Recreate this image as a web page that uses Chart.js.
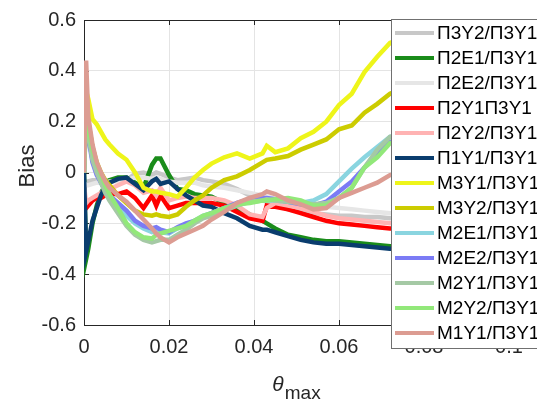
<!DOCTYPE html>
<html>
<head>
<meta charset="utf-8">
<script src="https://cdn.jsdelivr.net/npm/chart.js@4"></script>
<style>
  html, body { margin: 0; padding: 0; background: #fff; }
</style>
</head>
<body>
<canvas id="chart" width="537" height="401"></canvas>
<script>
// x values (theta_max) shared by all series
const thetaMax = [0, 0.0005, 0.001, 0.002, 0.003, 0.004, 0.005, 0.006, 0.008, 0.010,
  0.012, 0.014, 0.016, 0.017, 0.018, 0.020, 0.022, 0.024, 0.026, 0.028,
  0.030, 0.033, 0.036, 0.039, 0.042, 0.043, 0.045, 0.048, 0.051, 0.054,
  0.057, 0.060, 0.063, 0.066, 0.069, 0.072, 0.075];

const seriesNames = ['П3Y2/П3Y1', 'П2E1/П3Y1', 'П2E2/П3Y1', 'П2Y1П3Y1', 'П2Y2/П3Y1', 'П1Y1/П3Y1',
  'M3Y1/П3Y1', 'M3Y2/П3Y1', 'M2E1/П3Y1', 'M2E2/П3Y1', 'M2Y1/П3Y1', 'M2Y2/П3Y1', 'M1Y1/П3Y1'];

const p3y2 = [-0.03, -0.04, -0.035, -0.03, -0.03, -0.03, -0.03, -0.03, -0.03, -0.03,
  -0.005, 0, -0.01, 0, -0.005, -0.02, -0.03, -0.025, -0.02, -0.03,
  -0.035, -0.045, -0.065, -0.09, -0.11, -0.115, -0.125, -0.145, -0.155, -0.16,
  -0.165, -0.17, -0.17, -0.175, -0.175, -0.18, -0.18];
const p2e1 = [0, -0.34, -0.3, -0.2, -0.13, -0.08, -0.05, -0.03, -0.02, -0.02,
  -0.04, -0.06, 0.03, 0.055, 0.055, -0.01, -0.065, -0.07, -0.085, -0.09,
  -0.095, -0.12, -0.14, -0.165, -0.19, -0.2, -0.22, -0.245, -0.255, -0.265,
  -0.27, -0.27, -0.275, -0.28, -0.285, -0.29, -0.29];
const p2e2 = [-0.04, -0.05, -0.05, -0.045, -0.04, -0.04, -0.04, -0.035, -0.035, -0.03,
  -0.02, -0.02, -0.025, -0.02, -0.025, -0.035, -0.04, -0.04, -0.04, -0.05,
  -0.055, -0.06, -0.07, -0.08, -0.09, -0.095, -0.1, -0.11, -0.12, -0.13,
  -0.135, -0.14, -0.145, -0.15, -0.155, -0.16, -0.16];
const p2y1 = [-0.08, -0.14, -0.13, -0.11, -0.1, -0.1, -0.09, -0.085, -0.085, -0.075,
  -0.1, -0.14, -0.09, -0.13, -0.09, -0.14, -0.13, -0.12, -0.12, -0.12,
  -0.12, -0.13, -0.155, -0.18, -0.19, -0.13, -0.135, -0.145, -0.16, -0.175,
  -0.19, -0.2, -0.205, -0.21, -0.215, -0.22, -0.22];
const p2y2 = [-0.05, -0.12, -0.11, -0.1, -0.09, -0.08, -0.07, -0.065, -0.05, -0.035,
  -0.05, -0.08, -0.07, -0.09, -0.06, -0.11, -0.1, -0.095, -0.1, -0.1,
  -0.1, -0.11, -0.13, -0.165, -0.175, -0.14, -0.12, -0.13, -0.14, -0.155,
  -0.17, -0.18, -0.185, -0.19, -0.195, -0.2, -0.2];
const p1y1 = [0, -0.31, -0.27, -0.19, -0.14, -0.09, -0.055, -0.04, -0.025, -0.02,
  -0.045, -0.07, -0.035, -0.025, -0.045, -0.035, -0.065, -0.09, -0.11, -0.13,
  -0.135, -0.16, -0.18, -0.21, -0.225, -0.225, -0.235, -0.25, -0.265, -0.275,
  -0.28, -0.28, -0.285, -0.29, -0.295, -0.3, -0.3];
const m3y1 = [0, 0.32, 0.29, 0.21, 0.19, 0.16, 0.13, 0.11, 0.075, 0.05,
  0, -0.06, -0.075, -0.075, -0.08, -0.085, -0.095, -0.06, -0.02, 0.01,
  0.035, 0.06, 0.075, 0.055, 0.075, 0.105, 0.08, 0.095, 0.135, 0.16,
  0.2, 0.265, 0.31, 0.395, 0.455, 0.51, 0.53];
const m3y2 = [0, 0.25, 0.2, 0.1, 0.04, 0, -0.03, -0.05, -0.09, -0.12,
  -0.15, -0.165, -0.17, -0.165, -0.17, -0.175, -0.165, -0.135, -0.11, -0.09,
  -0.06, -0.03, -0.015, 0.01, 0.04, 0.05, 0.055, 0.065, 0.09, 0.11,
  0.13, 0.17, 0.185, 0.235, 0.27, 0.31, 0.33];
const m2e1 = [0, 0.22, 0.15, 0.05, 0, -0.04, -0.07, -0.09, -0.13, -0.17,
  -0.2, -0.22, -0.235, -0.23, -0.235, -0.24, -0.22, -0.21, -0.19, -0.17,
  -0.16, -0.14, -0.125, -0.115, -0.11, -0.11, -0.11, -0.115, -0.12, -0.11,
  -0.085, -0.035, 0.015, 0.06, 0.1, 0.14, 0.15];
const m2e2 = [0, 0.22, 0.14, 0.04, -0.01, -0.04, -0.07, -0.09, -0.12, -0.15,
  -0.19, -0.21, -0.22, -0.215, -0.225, -0.235, -0.215, -0.2, -0.19, -0.175,
  -0.16, -0.14, -0.12, -0.105, -0.1, -0.1, -0.105, -0.115, -0.125, -0.13,
  -0.115, -0.075, -0.035, 0.02, 0.075, 0.12, 0.13];
const m2y1 = [0, 0.24, 0.15, 0.05, 0, -0.04, -0.08, -0.11, -0.16, -0.21,
  -0.245, -0.265, -0.275, -0.27, -0.265, -0.265, -0.245, -0.225, -0.2, -0.18,
  -0.17, -0.15, -0.13, -0.115, -0.11, -0.105, -0.11, -0.115, -0.12, -0.125,
  -0.12, -0.1, -0.06, 0.02, 0.09, 0.14, 0.15];
const m2y2 = [0, 0.25, 0.18, 0.09, 0.035, -0.01, -0.05, -0.085, -0.14, -0.2,
  -0.235, -0.255, -0.26, -0.245, -0.24, -0.23, -0.22, -0.21, -0.19, -0.17,
  -0.16, -0.14, -0.125, -0.12, -0.11, -0.11, -0.105, -0.1, -0.11, -0.13,
  -0.13, -0.1, -0.06, 0.02, 0.06, 0.115, 0.13];
const m1y1 = [0, 0.44, 0.22, 0.11, 0.04, 0, -0.035, -0.06, -0.09, -0.115,
  -0.15, -0.185, -0.22, -0.24, -0.255, -0.275, -0.255, -0.24, -0.225, -0.21,
  -0.185, -0.155, -0.12, -0.1, -0.085, -0.075, -0.085, -0.11, -0.125, -0.145,
  -0.14, -0.1, -0.08, -0.06, -0.04, -0.01, 0];

const xTicks = [0, 0.02, 0.04, 0.06, 0.08, 0.1];
const yTicks = [-0.6, -0.4, -0.2, 0, 0.2, 0.4, 0.6];

const seriesValues = [p3y2, p2e1, p2e2, p2y1, p2y2, p1y1, m3y1, m3y2, m2e1, m2e2, m2y1, m2y2, m1y1];
const seriesColors = ['#c8c8c8', '#1a8c1a', '#e6e6e6', '#ff0000', '#ffb3b3', '#0a3d6e',
  '#eef51a', '#cccc00', '#8ad5e0', '#7b7bf5', '#a5c9a5', '#92e87a', '#dc9c92'];

const FONT = '"Liberation Sans", Arial, sans-serif';
const INK = '#262626';

// ------------------------------------------------------------------
// axes box + inward tick marks (MATLAB style), drawn under the lines
// ------------------------------------------------------------------
const frame = {
  id: 'frame',
  beforeDatasetsDraw(chart) {
    const { ctx, chartArea: a, scales: { x, y } } = chart;
    ctx.save();
    ctx.strokeStyle = INK;
    ctx.lineWidth = 1;
    ctx.beginPath();
    ctx.rect(Math.round(a.left) + 0.5, Math.round(a.top) + 0.5,
      Math.round(a.right - a.left), Math.round(a.bottom - a.top));
    x.ticks.forEach(t => {
      const px = Math.round(x.getPixelForValue(t.value)) + 0.5;
      ctx.moveTo(px, a.bottom); ctx.lineTo(px, a.bottom - 5);
      ctx.moveTo(px, a.top); ctx.lineTo(px, a.top + 5);
    });
    y.ticks.forEach(t => {
      const py = Math.round(y.getPixelForValue(t.value)) + 0.5;
      ctx.moveTo(a.left, py); ctx.lineTo(a.left + 5, py);
      ctx.moveTo(a.right, py); ctx.lineTo(a.right - 5, py);
    });
    ctx.stroke();
    ctx.restore();
  },
};

// ------------------------------------------------------------------
// axis titles and the legend box that sits over the plot
// ------------------------------------------------------------------
const overlay = {
  id: 'overlay',
  afterDraw(chart) {
    const { ctx, chartArea: a } = chart;
    ctx.save();
    ctx.fillStyle = INK;

    // y title
    ctx.save();
    ctx.translate(28, 166);
    ctx.rotate(-Math.PI / 2);
    ctx.font = '22px ' + FONT;
    ctx.textAlign = 'center';
    ctx.textBaseline = 'middle';
    ctx.fillText('Bias', 0, 0);
    ctx.restore();

    // x title: theta with subscript "max"
    ctx.font = 'italic 21px ' + FONT;
    const wTheta = ctx.measureText('θ').width;
    ctx.font = '19px ' + FONT;
    const wSub = ctx.measureText('max').width;
    const cx = (a.left + a.right) / 2;
    const x0 = cx - (wTheta + wSub + 1) / 2;
    ctx.textAlign = 'left';
    ctx.textBaseline = 'alphabetic';
    ctx.font = 'italic 21px ' + FONT;
    ctx.fillText('θ', x0, 391);
    ctx.font = '19px ' + FONT;
    ctx.fillText('max', x0 + wTheta + 1, 399);

    // legend
    const lx = 391, ly = 19, lw = 160, lh = 329;
    ctx.fillStyle = '#fff';
    ctx.fillRect(lx, ly, lw, lh);
    ctx.strokeStyle = '#707070';
    ctx.lineWidth = 1;
    ctx.strokeRect(lx + 0.5, ly + 0.5, lw, lh);
    ctx.font = '19px ' + FONT;
    ctx.textBaseline = 'middle';
    chart.data.datasets.forEach((ds, i) => {
      const ry = 33 + 25 * i;
      ctx.strokeStyle = ds.borderColor;
      ctx.lineWidth = 4;
      ctx.beginPath();
      ctx.moveTo(395, ry);
      ctx.lineTo(434, ry);
      ctx.stroke();
      ctx.fillStyle = '#000';
      ctx.fillText(ds.label, 437, ry + 1);
    });
    ctx.restore();
  },
};

const datasets = seriesNames.map((name, i) => ({
  label: name,
  data: thetaMax.map((t, j) => ({ x: t, y: seriesValues[i][j] })),
  borderColor: seriesColors[i],
  backgroundColor: seriesColors[i],
  borderWidth: 4.5,
  pointRadius: 0,
  tension: 0,
  fill: false,
  order: seriesNames.length - i, // later series on top, as in the source
}));

new Chart(document.getElementById('chart'), {
  type: 'line',
  data: { datasets },
  options: {
    responsive: false,
    animation: false,
    devicePixelRatio: 1,
    layout: { padding: { top: 20, right: 28, left: 0, bottom: 0 } },
    plugins: { legend: { display: false }, tooltip: { enabled: false } },
    scales: {
      x: {
        type: 'linear',
        min: 0,
        max: 0.1,
        afterBuildTicks: s => { s.ticks = xTicks.map(v => ({ value: v })); },
        afterFit: s => { s.height = 76; },
        grid: { color: '#e4e4e4', drawTicks: false },
        border: { display: false },
        ticks: {
          padding: 10,
          maxRotation: 0,
          autoSkip: false,
          color: INK,
          font: { family: FONT, size: 20 },
          callback: v => String(+v.toFixed(2)),
        },
      },
      y: {
        type: 'linear',
        min: -0.6,
        max: 0.6,
        afterBuildTicks: s => { s.ticks = yTicks.map(v => ({ value: v })); },
        afterFit: s => { s.width = 84; },
        grid: { color: '#e4e4e4', drawTicks: false },
        border: { display: false },
        ticks: {
          padding: 8,
          color: INK,
          font: { family: FONT, size: 20 },
          callback: v => String(+v.toFixed(1)),
        },
      },
    },
  },
  plugins: [frame, overlay],
});
</script>
</body>
</html>
